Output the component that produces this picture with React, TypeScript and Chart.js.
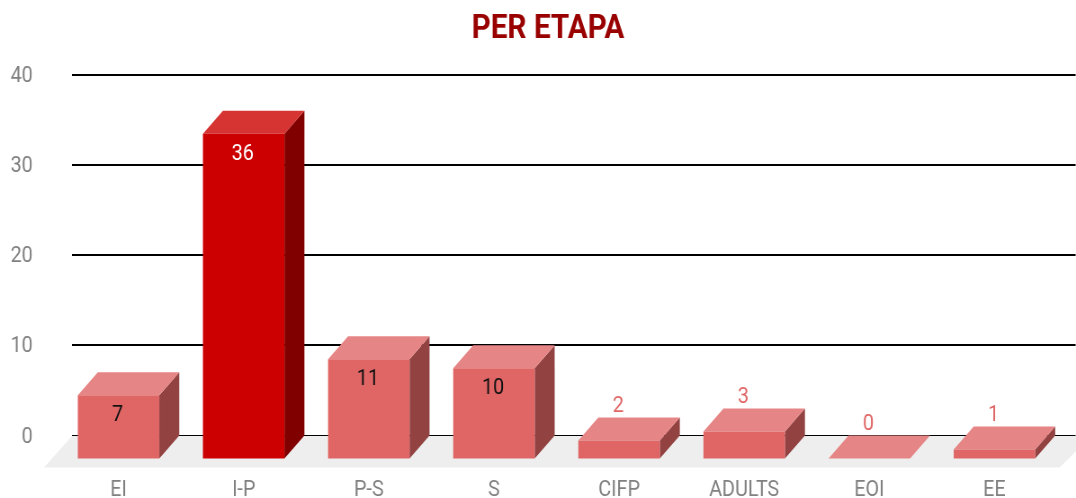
import React, { useEffect, useRef } from "react";
import { Chart, registerables } from "chart.js";

Chart.register(...registerables);

const categories = ["EI", "I-P", "P-S", "S", "CIFP", "ADULTS", "EOI", "EE"];
const values = [7, 36, 11, 10, 2, 3, 0, 1];
const shownLabels = ["7", "36", "11", "10", "2", "3", "0", "1"];
const labelColors = ["#111111", "#ffffff", "#111111", "#111111", "#e06666", "#e06666", "#e06666", "#e06666"];
const frontColors = ["#e06666", "#cc0000", "#e06666", "#e06666", "#e06666", "#e06666", "#e06666", "#e06666"];
const topColors = ["#e68585", "#d63333", "#e68585", "#e68585", "#e68585", "#e68585", "#e68585", "#e68585"];
const sideColors = ["#934242", "#800000", "#934242", "#934242", "#934242", "#934242", "#934242", "#934242"];
const yTicks = [0, 10, 20, 30, 40];

const SQUEEZE = 0.9;
const X = (px: number) => px / SQUEEZE;
const DEPTH_X = X(20);
const DEPTH_Y = 23;

const scene = {
  id: "scene",
  afterLayout(chart: any) {
    // the title is centred over the page's right-shifted plot, not the plot box
    if (chart.titleBlock) chart.titleBlock.left += X(39);
  },
  beforeDatasetsDraw(chart: any) {
    const { ctx, scales } = chart;
    const y0 = scales.y.getPixelForValue(0);
    ctx.save();
    ctx.strokeStyle = "#000000";
    ctx.lineWidth = 2;
    yTicks.forEach((t) => {
      const py = Math.round(scales.y.getPixelForValue(t));
      ctx.beginPath();
      ctx.moveTo(X(72), py);
      ctx.lineTo(X(1076), py);
      ctx.stroke();
    });
    ctx.fillStyle = "#eeeeee";
    ctx.beginPath();
    ctx.moveTo(X(72), y0 + 0.5);
    ctx.lineTo(X(1092), y0 + 0.5);
    ctx.lineTo(X(1060), y0 + 32);
    ctx.lineTo(X(44), y0 + 32);
    ctx.closePath();
    ctx.fill();
    ctx.restore();
  },
  beforeDatasetDraw(chart: any, args: any) {
    const { ctx } = chart;
    const meta = chart.getDatasetMeta(args.index);
    ctx.save();
    meta.data.forEach((el: any, i: number) => {
      const { x, y, base, width } = el.getProps(["x", "y", "base", "width"], true);
      const l = x - width / 2;
      const r = x + width / 2;
      const top = y + DEPTH_Y;
      const bot = base + DEPTH_Y;
      ctx.fillStyle = sideColors[i];
      ctx.beginPath();
      ctx.moveTo(r, top);
      ctx.lineTo(r + DEPTH_X, y);
      ctx.lineTo(r + DEPTH_X, base);
      ctx.lineTo(r, bot);
      ctx.closePath();
      ctx.fill();
      ctx.fillStyle = topColors[i];
      ctx.beginPath();
      ctx.moveTo(l, top);
      ctx.lineTo(l + DEPTH_X, y);
      ctx.lineTo(r + DEPTH_X, y);
      ctx.lineTo(r, top);
      ctx.closePath();
      ctx.fill();
    });
    ctx.translate(0, DEPTH_Y);
  },
  afterDatasetDraw(chart: any, args: any) {
    const { ctx } = chart;
    ctx.restore();
    const meta = chart.getDatasetMeta(args.index);
    ctx.save();
    ctx.font = "22px Roboto";
    ctx.textAlign = "center";
    ctx.textBaseline = "middle";
    meta.data.forEach((el: any, i: number) => {
      const { x, y } = el.getProps(["x", "y"], true);
      const inside = values[i] >= 5;
      ctx.fillStyle = labelColors[i];
      ctx.fillText(shownLabels[i], x - 1, inside ? y + DEPTH_Y + 20.5 : y - 11);
    });
    ctx.restore();
  },
};

export default function App() {
  const ref = useRef<HTMLCanvasElement>(null);
  useEffect(() => {
    const canvas = ref.current!;
    const chart = new Chart(canvas, {
      type: "bar",
      data: {
        labels: categories,
        datasets: [
          {
            data: values,
            backgroundColor: frontColors,
            barPercentage: 81.5 / 125.15,
            categoryPercentage: 1,
            clip: false as any,
          },
        ],
      },
      options: {
        responsive: false,
        animation: false,
        devicePixelRatio: 1,
        layout: { padding: { left: 0, right: X(1076 - 1057), top: 0, bottom: 0 } },
        plugins: {
          legend: { display: false },
          tooltip: { enabled: false },
          title: {
            display: true,
            text: "PER ETAPA",
            color: "#990000",
            font: { family: "Roboto", size: 33, weight: "bold" },
            padding: { top: 10, bottom: 25 },
          },
        },
        scales: {
          x: {
            grid: { display: false },
            border: { display: false },
            ticks: {
              color: "#808080",
              font: { family: "Roboto", size: 22 },
              padding: 34,
              maxRotation: 0,
              autoSkip: false,
            },
            afterFit(s: any) {
              s.height = 498 - 435.5;
            },
          },
          y: {
            min: 0,
            max: 40,
            grid: { display: false },
            border: { display: false },
            ticks: {
              color: "#808080",
              font: { family: "Roboto", size: 22 },
              stepSize: 10,
              padding: X(16),
              labelOffset: 1.5,
            },
            afterFit(s: any) {
              s.width = X(56);
            },
          },
        },
      },
      plugins: [scene],
    } as any);
    return () => chart.destroy();
  }, []);
  return (
    <div style={{ position: "absolute", left: 0, top: 0, width: 1076, height: 498, overflow: "hidden", background: "#fff" }}>
      <canvas ref={ref} width={Math.round(X(1076))} height={498} style={{ width: 1076, height: 498, display: "block" }} />
    </div>
  );
}
